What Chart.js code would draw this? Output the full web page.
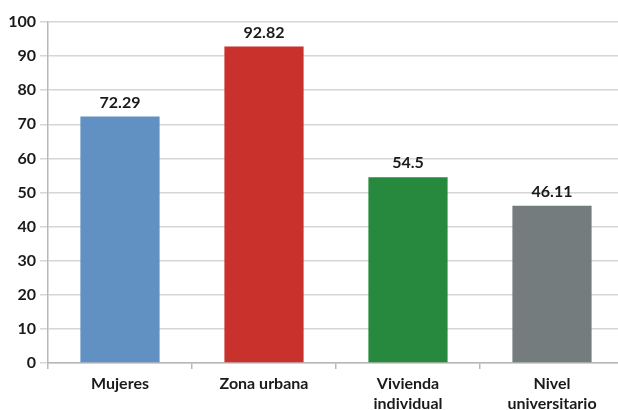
<!DOCTYPE html>
<html>
<head>
<meta charset="utf-8">
<script src="https://cdn.jsdelivr.net/npm/chart.js@4"></script>
<style>
  html, body { margin: 0; padding: 0; background: #fff; overflow: hidden; }
  #wrap { width: 624px; height: 410px; }
</style>
</head>
<body>
<div id="wrap"><canvas id="chart"></canvas></div>
<script>
const categories = [["Mujeres"], ["Zona urbana"], ["Vivienda", "individual"], ["Nivel", "universitario"]];
const values = [72.29, 92.82, 54.5, 46.11];
const valueLabels = ["72.29", "92.82", "54.5", "46.11"];
const barColors = ["#6190c3", "#c9312c", "#27893e", "#757c7d"];

const fontFamily = "Lato, 'Open Sans', sans-serif";

const valueLabelPlugin = {
  id: "valueLabels",
  afterDatasetsDraw(chart) {
    const ctx = chart.ctx;
    const meta = chart.getDatasetMeta(0);
    ctx.save();
    ctx.font = "bold 16px " + fontFamily;
    ctx.fillStyle = "#1a1a1a";
    ctx.textAlign = "center";
    ctx.textBaseline = "bottom";
    meta.data.forEach((bar, i) => {
      ctx.fillText(valueLabels[i], bar.x, bar.y - 6);
    });
    ctx.restore();
  }
};

new Chart(document.getElementById("chart"), {
  type: "bar",
  data: {
    labels: categories,
    datasets: [{
      data: values,
      backgroundColor: barColors,
      borderWidth: 0,
      categoryPercentage: 0.55,
      barPercentage: 1
    }]
  },
  options: {
    responsive: true,
    maintainAspectRatio: false,
    animation: false,
    layout: { padding: { top: 22, right: 0, left: 0, bottom: 0 } },
    plugins: {
      legend: { display: false },
      tooltip: { enabled: false }
    },
    scales: {
      y: {
        min: 0,
        max: 100,
        ticks: {
          stepSize: 10,
          color: "#1a1a1a",
          font: { family: fontFamily, size: 16, weight: "bold" },
          padding: 4
        },
        grid: { color: "#d6d6d6", lineWidth: 1.5, tickLength: 8 },
        border: { color: "#b8b8b8", width: 1.5 },
        afterFit(scale) { scale.width = 48; }
      },
      x: {
        ticks: {
          color: "#1a1a1a",
          font: { family: fontFamily, size: 16, weight: "bold", lineHeight: 1.3 },
          padding: 4
        },
        grid: { offset: true, drawOnChartArea: false, color: "#b8b8b8", lineWidth: 1.5, tickLength: 6 },
        border: { color: "#b8b8b8", width: 1.5 },
        afterFit(scale) { scale.height = 47; }
      }
    }
  },
  plugins: [valueLabelPlugin]
});
</script>
</body>
</html>
